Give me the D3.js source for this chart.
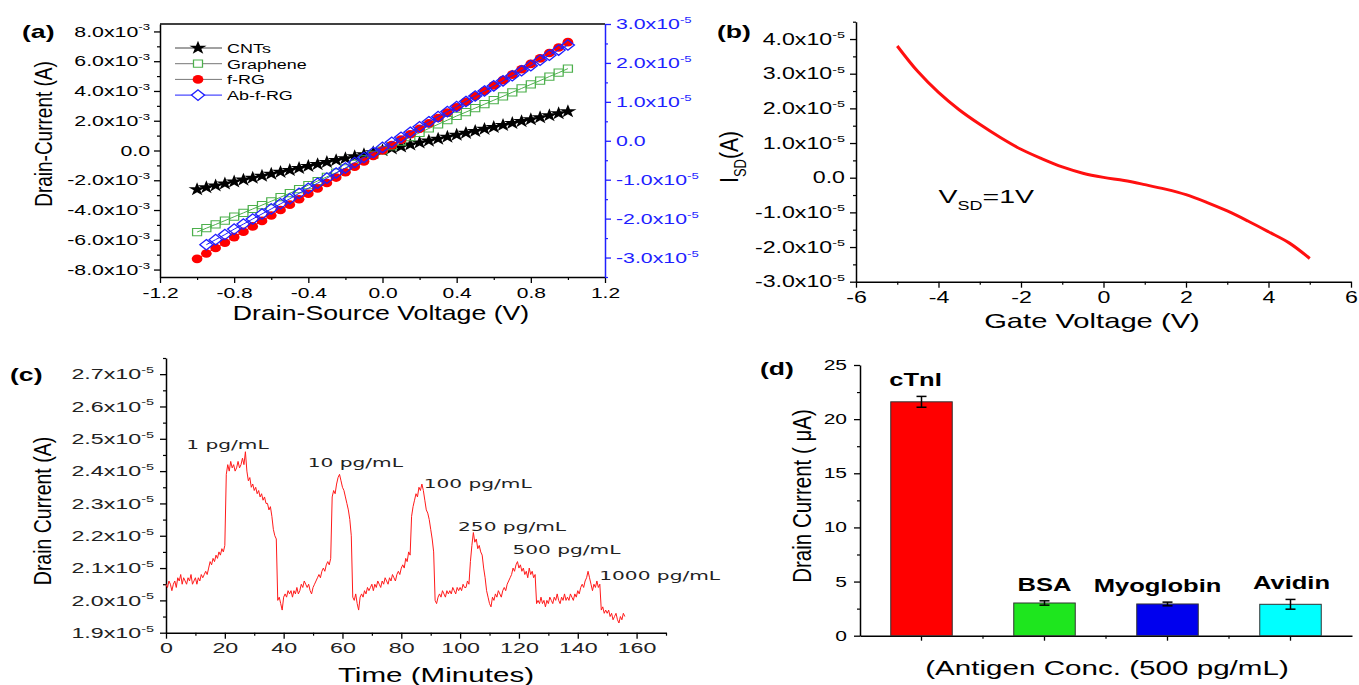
<!DOCTYPE html>
<html>
<head>
<meta charset="utf-8">
<script src="https://cdn.jsdelivr.net/npm/d3@7"></script>
<style>
  body { margin: 0; background: #fff; }
  svg { display: block; }
</style>
</head>
<body>
<svg id="fig" width="1359" height="685"></svg>
<script>
// ---------- data ----------
// (a) I-V curves, drain-source voltage in V
const vsdA = [-1.00, -0.95, -0.90, -0.85, -0.80, -0.75, -0.70, -0.65, -0.60, -0.55, -0.50, -0.45, -0.40, -0.35,
  -0.30, -0.25, -0.20, -0.15, -0.10, -0.05, 0.00, 0.05, 0.10, 0.15, 0.20, 0.25, 0.30, 0.35, 0.40, 0.45,
  0.50, 0.55, 0.60, 0.65, 0.70, 0.75, 0.80, 0.85, 0.90, 0.95, 1.00]
// left axis, units of 1e-3 A
const cntA = [-2.62, -2.49, -2.36, -2.23, -2.10, -1.97, -1.84, -1.71, -1.58, -1.45, -1.32, -1.19, -1.06, -0.93,
  -0.79, -0.66, -0.53, -0.40, -0.27, -0.13, 0.00, 0.13, 0.26, 0.39, 0.52, 0.65, 0.78, 0.91, 1.04, 1.17,
  1.30, 1.44, 1.57, 1.70, 1.83, 1.96, 2.09, 2.22, 2.35, 2.49, 2.62]
const graA = [-5.48, -5.22, -4.97, -4.71, -4.45, -4.19, -3.93, -3.67, -3.41, -3.14, -2.87, -2.60, -2.33, -2.05,
  -1.77, -1.49, -1.20, -0.90, -0.60, -0.30, 0.00, 0.30, 0.60, 0.90, 1.19, 1.48, 1.76, 2.04, 2.32, 2.58,
  2.85, 3.11, 3.38, 3.64, 3.91, 4.17, 4.44, 4.70, 4.97, 5.23, 5.50]
const frgA = [-7.28, -6.92, -6.55, -6.19, -5.82, -5.46, -5.10, -4.73, -4.37, -4.00, -3.64, -3.28, -2.91, -2.55,
  -2.18, -1.82, -1.46, -1.09, -0.73, -0.36, 0.00, 0.36, 0.73, 1.09, 1.46, 1.82, 2.18, 2.55, 2.91, 3.28,
  3.64, 4.00, 4.37, 4.73, 5.10, 5.46, 5.82, 6.19, 6.55, 6.92, 7.28]
// right axis, units of 1e-5 A, starts at -0.95 V
const abA = [-2.67, -2.54, -2.41, -2.27, -2.14, -2.01, -1.88, -1.75, -1.62, -1.49, -1.35, -1.22, -1.09,
  -0.96, -0.83, -0.70, -0.56, -0.43, -0.30, -0.17, -0.04, 0.09, 0.22, 0.36, 0.49, 0.62, 0.75, 0.88, 1.01,
  1.15, 1.28, 1.41, 1.54, 1.67, 1.80, 1.93, 2.07, 2.20, 2.33, 2.46]
const seriesA = ["CNTs", "Graphene", "f-RG", "Ab-f-RG"]
const xTicksA = [-1.2, -0.8, -0.4, 0, 0.4, 0.8, 1.2]
const yTicksA = [-8, -6, -4, -2, 0, 2, 4, 6, 8]
const y2TicksA = [-3, -2, -1, 0, 1, 2, 3]

// (b) transfer curve, gate voltage in V, current in 1e-5 A
const vgB = [-5, -4.5, -4, -3.5, -3, -2.5, -2, -1.5, -1, -0.5, 0, 0.5, 1, 1.5, 2, 2.5, 3, 3.5, 4, 4.5, 5]
const isdB = [3.80, 3.06, 2.46, 1.96, 1.54, 1.16, 0.82, 0.55, 0.31, 0.13, 0.01, -0.08, -0.20, -0.33, -0.49,
  -0.71, -0.96, -1.25, -1.56, -1.88, -2.33]
const xTicksB = [-6, -4, -2, 0, 2, 4, 6]
const yTicksB = [-3, -2, -1, 0, 1, 2, 3, 4]

// (c) real-time response, one sample every 0.5 min from t = 0, current in 1e-5 A
const stepC = 0.5
const currentC = [
  2.05, 2.04, 2.06, 2.05, 2.03, 2.05, 2.06, 2.04, 2.07, 2.06, 2.08, 2.05, 2.07, 2.06, 2.05, 2.07, 2.06, 2.08,
  2.05, 2.06, 2.07, 2.05, 2.07, 2.06, 2.08, 2.07, 2.08, 2.09, 2.08,
  2.10, 2.12, 2.11, 2.13, 2.12, 2.14, 2.13, 2.15, 2.14, 2.16, 2.15, 2.17,
  2.39, 2.42, 2.40, 2.43, 2.41, 2.42, 2.40, 2.41, 2.43, 2.41, 2.42, 2.44, 2.42, 2.46,
  2.40, 2.37, 2.38, 2.35, 2.36, 2.34, 2.35, 2.33, 2.34, 2.32, 2.33, 2.31, 2.32, 2.30, 2.30, 2.28, 2.29, 2.26,
  2.22, 2.20, 2.19,
  2.00, 2.01, 1.99, 1.97, 2.01,
  2.02, 2.01, 2.03, 2.02, 2.03, 2.01, 2.03, 2.02, 2.04, 2.02, 2.03, 2.05, 2.04, 2.06, 2.05, 2.04, 2.05, 2.03,
  2.02, 2.04,
  2.05, 2.06, 2.07, 2.08, 2.07, 2.09, 2.10, 2.09, 2.11, 2.12, 2.11, 2.13,
  2.32, 2.34, 2.33, 2.36, 2.38, 2.39, 2.37, 2.35, 2.34, 2.32, 2.30, 2.28, 2.25, 2.20, 2.01,
  2.00, 2.02, 1.99, 1.97, 2.01,
  2.02, 2.01, 2.03, 2.02, 2.04, 2.03, 2.04, 2.05, 2.03, 2.05, 2.04, 2.06, 2.05, 2.04, 2.06, 2.05, 2.07, 2.06,
  2.05, 2.07, 2.06, 2.08, 2.07, 2.06, 2.08, 2.09, 2.08, 2.10, 2.11, 2.10, 2.13, 2.12, 2.15, 2.14,
  2.26, 2.29, 2.31, 2.33, 2.32, 2.35, 2.34, 2.36, 2.34, 2.31, 2.28, 2.27, 2.25, 2.22, 2.19, 2.15, 2.00,
  1.99, 2.01, 2.02, 2.01, 2.03, 2.02, 2.01, 2.03, 2.02, 2.03, 2.02, 2.04, 2.03, 2.02, 2.04, 2.03, 2.04, 2.03,
  2.05, 2.04, 2.04, 2.06, 2.05,
  2.12, 2.17, 2.21, 2.18, 2.19, 2.16, 2.17, 2.15, 2.14, 2.10, 2.07, 2.03, 2.01, 1.99, 1.98, 2.01,
  2.00, 2.02, 2.01, 2.03, 2.02, 2.01, 2.03, 2.04, 2.03, 2.05, 2.06, 2.07, 2.08, 2.10, 2.09, 2.11, 2.12, 2.10,
  2.11, 2.09, 2.10, 2.08, 2.09, 2.07, 2.10, 2.08, 2.09, 2.07, 2.08, 1.99,
  2.00, 1.99, 2.01, 1.99, 2.00, 1.98, 2.00, 1.99, 2.01, 2.00, 1.99, 2.01, 2.00, 2.02, 2.00, 1.99, 2.01, 2.00,
  2.02, 2.00, 2.01, 2.00, 2.02, 2.01, 2.00, 2.02, 2.01, 2.03, 2.02, 2.04, 2.05, 2.04, 2.06, 2.07, 2.09, 2.07,
  2.05, 2.03, 2.05, 2.04, 2.06, 2.04, 2.05, 1.97,
  1.98, 1.96, 1.97, 1.96, 1.97, 1.95, 1.96, 1.94, 1.95, 1.96, 1.94, 1.93, 1.95, 1.94, 1.96, 1.95
]
const peakLabels = ["1 pg/mL", "10 pg/mL", "100 pg/mL", "250 pg/mL", "500 pg/mL", "1000 pg/mL"]
// where each label starts, in (minutes, 1e-5 A)
const peakLabelAt = [[6.9, 2.468], [48.2, 2.414], [87.6, 2.347], [99.3, 2.216], [117.8, 2.144], [147.3, 2.063]]
const xTicksC = [0, 20, 40, 60, 80, 100, 120, 140, 160]
const yTicksC = [1.9, 2.0, 2.1, 2.2, 2.3, 2.4, 2.5, 2.6, 2.7]

// (d) selectivity, drain current in uA
const antigens = ["cTnI", "BSA", "Myoglobin", "Avidin"]
const currentD = [21.6, 3.02, 2.93, 2.90]
const errD = [0.50, 0.20, 0.17, 0.45]
const colorsD = ["#ff0000", "#1ee61e", "#0000ee", "#00ffff"]
const yTicksD = [0, 5, 10, 15, 20, 25]

// ---------- helpers ----------
const FONT = '"Liberation Sans", Arial, sans-serif'
const svg = d3.select('#fig')
svg.append('rect').attr('width', 1359).attr('height', 685).attr('fill', '#fff')

//the whole figure was stretched sideways, so text gets a horizontal scale
function label(x, y, str, o) {
  o = o || {}
  const sx = o.sx || 1
  const tf = o.rot ? `translate(${x},${y}) rotate(-90) scale(1,${sx})` : `translate(${x},${y}) scale(${sx},1)`
  const t = svg.append('text')
    .attr('transform', tf)
    .attr('font-family', o.font || FONT)
    .attr('font-size', o.size || 14)
    .attr('font-weight', o.bold ? 'bold' : null)
    .attr('text-anchor', o.anchor || 'start')
    .attr('fill', o.fill || '#000')
  if (str) t.text(str)
  return t
}

function styleAxis(g, color) {
  g.attr('font-family', FONT).attr('color', color || '#000')
  g.select('.domain').attr('stroke-width', 1.5)
  g.selectAll('.tick line').attr('stroke-width', 1.3)
}

function minorAxis(axisFn, scale, values, size, transform, color) {
  const g = svg.append('g').attr('transform', transform)
    .call(axisFn(scale).tickValues(values).tickSize(size).tickFormat(''))
  g.select('.domain').remove()
  g.attr('color', color || '#000')
  g.selectAll('.tick line').attr('stroke-width', 1.2)
}

// tick labels like 8.0x10^-3
function sciLabels(g, exp, size, sx, gap, side, fill) {
  g.selectAll('.tick text').each(function(d) {
    const t = d3.select(this).text(null)
      .attr('font-size', size)
      .attr('fill', fill || 'currentColor')
      .attr('x', (side === 'right' ? gap : -gap) / sx)
      .attr('transform', `scale(${sx},1)`)
    if (Math.abs(d) < 1e-9) { t.text('0.0'); return }
    t.append('tspan').text(d.toFixed(1) + 'x10')
    t.append('tspan').attr('font-size', size * 0.62).attr('dy', -size * 0.42).text(exp)
  })
}

function bottomLabels(g, size, sx, base, fmt, fill) {
  g.selectAll('.tick text')
    .attr('font-size', size)
    .attr('y', base).attr('dy', null)
    .attr('fill', fill || 'currentColor')
    .attr('transform', `scale(${sx},1)`)
    .text(fmt)
}

function diamondPath(h) {
  return `M0,${-h}L${h},0L0,${h}L${-h},0Z`
}

function drawMarker(g, kind, x, y, legend) {
  const tf = `translate(${x},${y}) scale(1.25,1)`
  if (kind === 'star') {
    g.append('path').attr('d', d3.symbol().type(d3.symbolStar).size(58)()).attr('transform', tf).attr('fill', '#000')
  } else if (kind === 'square') {
    g.append('path').attr('d', d3.symbol().type(d3.symbolSquare).size(52)()).attr('transform', tf)
      .attr('fill', legend ? '#fff' : 'none').attr('stroke', '#4cb04c').attr('stroke-width', 1)
  } else if (kind === 'circle') {
    g.append('path').attr('d', d3.symbol().type(d3.symbolCircle).size(58)()).attr('transform', tf).attr('fill', '#ff0000')
  } else {
    g.append('path').attr('d', diamondPath(5.2)).attr('transform', tf)
      .attr('fill', legend ? '#fff' : 'none').attr('stroke', '#1f1fff').attr('stroke-width', 1.2)
  }
}

// ---------- (a) ----------
const xA = d3.scaleLinear().domain([-1.2, 1.2]).range([160, 605])
const yA = d3.scaleLinear().domain([-8.5, 8.5]).range([277, 24])
const yA2 = d3.scaleLinear().domain([-3.5, 3.0]).range([277, 24])

svg.append('line').attr('x1', xA(-1.2)).attr('x2', xA(1.2)).attr('y1', yA(8.5)).attr('y2', yA(8.5))
  .attr('stroke', '#000').attr('stroke-width', 1.5)

minorAxis(d3.axisBottom, xA, [-1.0, -0.6, -0.2, 0.2, 0.6, 1.0], 3, `translate(0,${yA(-8.5)})`)
const gxA = svg.append('g').attr('transform', `translate(0,${yA(-8.5)})`)
  .call(d3.axisBottom(xA).tickValues(xTicksA).tickSize(6).tickSizeOuter(0))
styleAxis(gxA)
bottomLabels(gxA, 14.5, 1.45, 21, d => d.toFixed(1))

minorAxis(d3.axisLeft, yA, [-7, -5, -3, -1, 1, 3, 5, 7], 3, `translate(${xA(-1.2)},0)`)
const gyA = svg.append('g').attr('transform', `translate(${xA(-1.2)},0)`)
  .call(d3.axisLeft(yA).tickValues(yTicksA).tickSize(6).tickSizeOuter(0))
styleAxis(gyA)
sciLabels(gyA, '-3', 14.5, 1.47, 10, 'left')

minorAxis(d3.axisRight, yA2, [-3.5, -2.5, -1.5, -0.5, 0.5, 1.5, 2.5], 3, `translate(${xA(1.2)},0)`, '#1f1fff')
const gy2A = svg.append('g').attr('transform', `translate(${xA(1.2)},0)`)
  .call(d3.axisRight(yA2).tickValues(y2TicksA).tickSize(6).tickSizeOuter(0))
styleAxis(gy2A, '#1f1fff')
sciLabels(gy2A, '-5', 14.5, 1.47, 11, 'right')

const plotA = svg.append('g')
const lineA = (ys, sc, xs) => d3.line().x((d, i) => xA(xs[i])).y(d => sc(d))(ys)
const specA = [
  { ys: cntA, sc: yA, xs: vsdA, kind: 'star', line: '#000' },
  { ys: graA, sc: yA, xs: vsdA, kind: 'square', line: '#4cb04c' },
  { ys: frgA, sc: yA, xs: vsdA, kind: 'circle', line: '#ff0000' },
  { ys: abA, sc: yA2, xs: vsdA.slice(1), kind: 'diamond', line: '#1f1fff' }
]
specA.forEach(s => {
  plotA.append('path').attr('d', lineA(s.ys, s.sc, s.xs)).attr('fill', 'none')
    .attr('stroke', s.line).attr('stroke-width', 1)
  s.ys.forEach((v, i) => drawMarker(plotA, s.kind, xA(s.xs[i]), s.sc(v), false))
})

// legend
const legLine = ['#444', '#777', '#777', '#1f1fff']
seriesA.forEach((name, i) => {
  const y = 48 + i * 15.7
  svg.append('line').attr('x1', 175).attr('x2', 222).attr('y1', y).attr('y2', y)
    .attr('stroke', legLine[i]).attr('stroke-width', 1)
  drawMarker(svg, specA[i].kind, 198, y, true)
  label(227, y + 5, name, { size: 13.5, sx: 1.33 })
})

label(22, 38, '(a)', { size: 19, sx: 1.4, bold: true })
label(52, 134, 'Drain-Current (A)', { size: 19, sx: 1.22, rot: true, anchor: 'middle' })
label(381, 320, 'Drain-Source Voltage (V)', { size: 21, sx: 1.27, anchor: 'middle' })

// ---------- (b) ----------
const xB = d3.scaleLinear().domain([-6, 6]).range([856, 1351])
const yB = d3.scaleLinear().domain([-3, 4.5]).range([281.7, 21.7])

minorAxis(d3.axisBottom, xB, [-5, -3, -1, 1, 3, 5], 3, `translate(0,${yB(-3)})`)
const gxB = svg.append('g').attr('transform', `translate(0,${yB(-3)})`)
  .call(d3.axisBottom(xB).tickValues(xTicksB).tickSize(6).tickSizeOuter(0))
styleAxis(gxB)
bottomLabels(gxB, 16, 1.45, 21, d => String(d))

minorAxis(d3.axisLeft, yB, [-2.5, -1.5, -0.5, 0.5, 1.5, 2.5, 3.5, 4.5], 3, `translate(${xB(-6)},0)`)
const gyB = svg.append('g').attr('transform', `translate(${xB(-6)},0)`)
  .call(d3.axisLeft(yB).tickValues(yTicksB).tickSize(6).tickSizeOuter(0))
styleAxis(gyB)
sciLabels(gyB, '-5', 16, 1.45, 11, 'left')

svg.append('path')
  .attr('d', d3.line().curve(d3.curveCatmullRom).x((d, i) => xB(vgB[i])).y(d => yB(d))(isdB))
  .attr('fill', 'none').attr('stroke', '#ff1010').attr('stroke-width', 3)

const vsd = label(xB(-4.0), yB(-0.72), null, { size: 19, sx: 1.5 })
vsd.append('tspan').text('V')
vsd.append('tspan').attr('font-size', 12).attr('dy', 7).text('SD')
vsd.append('tspan').attr('dy', -7).text('=1V')

const isd = label(738, 157, null, { size: 21, sx: 1.25, rot: true, anchor: 'middle' })
isd.append('tspan').text('I')
isd.append('tspan').attr('font-size', 13).attr('dy', 6).text('SD')
isd.append('tspan').attr('dy', -6).text('(A)')

label(717, 38, '(b)', { size: 19, sx: 1.4, bold: true })
label(1092, 328, 'Gate Voltage (V)', { size: 21, sx: 1.39, anchor: 'middle' })

// ---------- (c) ----------
const xC = d3.scaleLinear().domain([0, 170]).range([166, 666])
const yC = d3.scaleLinear().domain([1.9, 2.75]).range([632.7, 358])

minorAxis(d3.axisBottom, xC, [10, 30, 50, 70, 90, 110, 130, 150, 170], 3, `translate(0,${yC(1.9)})`)
const gxC = svg.append('g').attr('transform', `translate(0,${yC(1.9)})`)
  .call(d3.axisBottom(xC).tickValues(xTicksC).tickSize(6).tickSizeOuter(0))
styleAxis(gxC)
bottomLabels(gxC, 15, 1.55, 20, d => String(d), '#222')

minorAxis(d3.axisLeft, yC, [1.95, 2.05, 2.15, 2.25, 2.35, 2.45, 2.55, 2.65, 2.75], 3, `translate(${xC(0)},0)`)
const gyC = svg.append('g').attr('transform', `translate(${xC(0)},0)`)
  .call(d3.axisLeft(yC).tickValues(yTicksC).tickSize(6).tickSizeOuter(0))
styleAxis(gyC)
sciLabels(gyC, '-5', 15, 1.55, 12, 'left', '#222')

svg.append('path')
  .attr('d', d3.line().x((d, i) => xC(i * stepC)).y(d => yC(d))(currentC))
  .attr('fill', 'none').attr('stroke', '#ff1a1a').attr('stroke-width', 1)

peakLabels.forEach((s, i) => {
  label(xC(peakLabelAt[i][0]), yC(peakLabelAt[i][1]), s,
    { size: 13, sx: 1.55, font: '"DejaVu Sans", Verdana, sans-serif', fill: '#222' })
})

label(10, 381, '(c)', { size: 19, sx: 1.4, bold: true })
label(51, 511, 'Drain Current (A)', { size: 19.5, sx: 1.25, rot: true, anchor: 'middle' })
label(436, 682, 'Time (Minutes)', { size: 21, sx: 1.41, anchor: 'middle' })

// ---------- (d) ----------
const xD = d3.scaleBand().domain(antigens).range([860, 1352]).paddingInner(0.5).paddingOuter(0.25)
const yD = d3.scaleLinear().domain([0, 25]).range([635.7, 365])

minorAxis(d3.axisLeft, yD, [2.5, 7.5, 12.5, 17.5, 22.5], 3, `translate(860,0)`)
const gyD = svg.append('g').attr('transform', `translate(860,0)`)
  .call(d3.axisLeft(yD).tickValues(yTicksD).tickSize(6).tickSizeOuter(0))
styleAxis(gyD)
gyD.selectAll('.tick text').attr('font-size', 14).attr('x', -13 / 1.5).attr('transform', 'scale(1.5,1)')

const gxD = svg.append('g').attr('transform', `translate(0,${yD(0)})`)
  .call(d3.axisBottom(xD).tickSize(5).tickSizeOuter(0).tickFormat(''))
styleAxis(gxD)
antigens.slice(1).forEach(a => {
  const xm = xD(a) - xD.step() * xD.paddingInner() / 2
  svg.append('line').attr('x1', xm).attr('x2', xm).attr('y1', yD(0)).attr('y2', yD(0) + 3)
    .attr('stroke', '#000').attr('stroke-width', 1.2)
})

svg.append('g').selectAll('rect')
  .data(antigens)
  .enter()
  .append('rect')
  .attr('x', d => xD(d))
  .attr('y', (d, i) => yD(currentD[i]))
  .attr('width', xD.bandwidth())
  .attr('height', (d, i) => yD(0) - yD(currentD[i]))
  .attr('fill', (d, i) => colorsD[i])
  .attr('stroke', '#333')
  .attr('stroke-width', 1)

// names sit a little off centre in the original
const nudgeD = [-6, 0, -10, 1]
antigens.forEach((a, i) => {
  const cx = xD(a) + xD.bandwidth() / 2
  const lo = yD(currentD[i] - errD[i]), hi = yD(currentD[i] + errD[i])
  svg.append('line').attr('x1', cx).attr('x2', cx).attr('y1', lo).attr('y2', hi).attr('stroke', '#000').attr('stroke-width', 1.5)
  ;[lo, hi].forEach(y => svg.append('line').attr('x1', cx - 5).attr('x2', cx + 5).attr('y1', y).attr('y2', y)
    .attr('stroke', '#000').attr('stroke-width', 1.5))
  label(cx + nudgeD[i], hi - 10, a, { size: 18, sx: 1.42, bold: true, anchor: 'middle' })
})

label(760, 375, '(d)', { size: 19, sx: 1.4, bold: true })
label(811, 496, 'Drain Current ( \u03bcA)', { size: 20.5, sx: 1.3, rot: true, anchor: 'middle' })
label(1107, 675, '(Antigen Conc. (500 pg/mL)', { size: 21, sx: 1.41, anchor: 'middle' })
</script>
</body>
</html>
